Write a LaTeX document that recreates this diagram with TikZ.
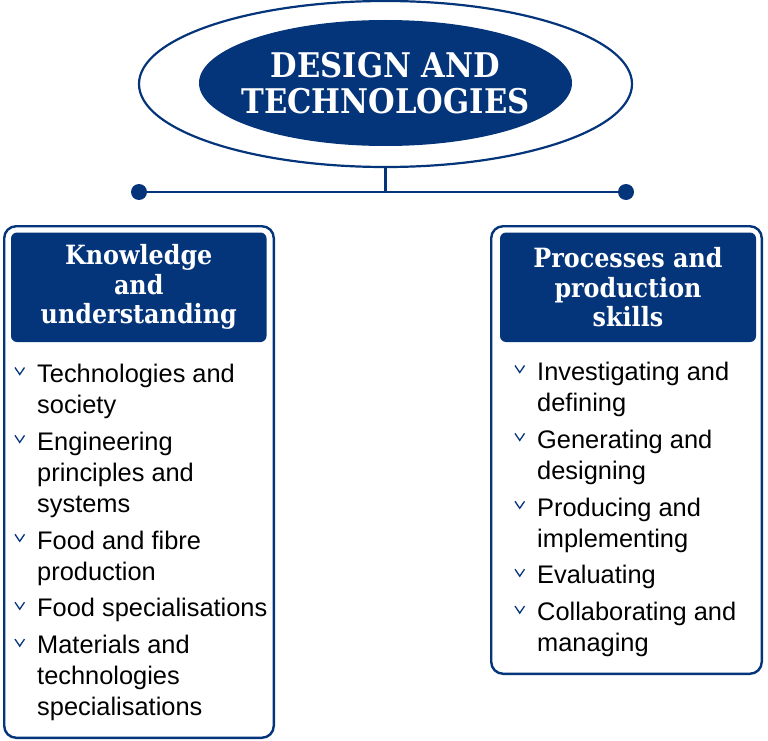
\documentclass[tikz,border=0pt]{standalone}
\usepackage{fontspec}
\setmainfont{Liberation Sans}
\newfontfamily\slab[FakeStretch=0.9]{DejaVu Serif}
\usepackage{tikz}
\usetikzlibrary{shapes.geometric, positioning}
\definecolor{dtblue}{HTML}{04347A}

\begin{document}
\begin{tikzpicture}[x=1pt, y=-1pt, node distance=5.5pt]
    \tikzstyle{ring} = [draw=dtblue, line width=2.2pt, ellipse, minimum width=493pt, minimum height=166pt]
    \tikzstyle{core} = [fill=dtblue, ellipse, minimum width=373pt, minimum height=126pt]
    \tikzstyle{outerbox} = [draw=dtblue, line width=2.4pt, rounded corners=12pt]
    \tikzstyle{headbox} = [fill=dtblue, rounded corners=6pt, text=white, align=center, inner sep=0pt,
        font=\slab\bfseries\fontsize{26.5}{29.5}\selectfont, minimum height=109.5pt]
    \tikzstyle{itembox} = [align=left, inner sep=0pt, anchor=north west, font=\fontsize{25.4}{31}\selectfont]
    \tikzstyle{hub} = [circle, fill=dtblue, minimum size=16pt, inner sep=0pt]
    \tikzstyle{chev} = [draw=dtblue, line width=1.3pt]
    \useasboundingbox (0,0) rectangle (768,741);

    % title
    \node [ring] at (385.5,84) (ring) {};
    \node [core] at (385.5,83) (core) {};
    \node [text=white, align=center, font=\slab\bfseries\fontsize{34}{35.5}\selectfont] at (core) (title) {DESIGN AND\\TECHNOLOGIES};

    % connector
    \node [hub] at (139,192) (d1) {};
    \node [hub] at (626,192) (d2) {};
    \draw [dtblue, line width=2.2pt] (d1) -- (d2);
    \draw [dtblue, line width=2.2pt] (ring.south) -- (ring.south |- d1);

    % two columns
    \node [outerbox, minimum width=269.6pt, minimum height=511.6pt] at (139,482) (kbox) {};
    \node [outerbox, minimum width=270.6pt, minimum height=447.6pt] at (626.5,450) (pbox) {};
    \node [headbox, minimum width=255.5pt] at (138.75,287.25) (khead) {Knowledge\\and\\understanding};
    \node [headbox, minimum width=256pt] at (628,287.25) (phead) {Processes and\\production\\skills};

    \node [itembox] at (37,360.3) (k1) {\strut Technologies and\\society\strut};
    \node [itembox, below=of k1.south west, anchor=north west] (k2) {\strut Engineering\\principles and\\systems\strut};
    \node [itembox, below=of k2.south west, anchor=north west] (k3) {\strut Food and fibre\\production\strut};
    \node [itembox, below=of k3.south west, anchor=north west] (k4) {\strut Food specialisations\strut};
    \node [itembox, below=of k4.south west, anchor=north west] (k5) {\strut Materials and\\technologies\\specialisations\strut};

    \node [itembox] at (537,358.3) (p1) {\strut Investigating and\\defining\strut};
    \node [itembox, below=of p1.south west, anchor=north west] (p2) {\strut Generating and\\designing\strut};
    \node [itembox, below=of p2.south west, anchor=north west] (p3) {\strut Producing and\\implementing\strut};
    \node [itembox, below=of p3.south west, anchor=north west] (p4) {\strut Evaluating\strut};
    \node [itembox, below=of p4.south west, anchor=north west] (p5) {\strut Collaborating and\\managing\strut};

    \foreach \i in {k1,k2,k3,k4,k5,p1,p2,p3,p4,p5}
        \draw [chev] ([shift={(-22,7.2)}]\i.north west) -- ++(4.75,7) -- ++(4.75,-7);
\end{tikzpicture}
\end{document}
